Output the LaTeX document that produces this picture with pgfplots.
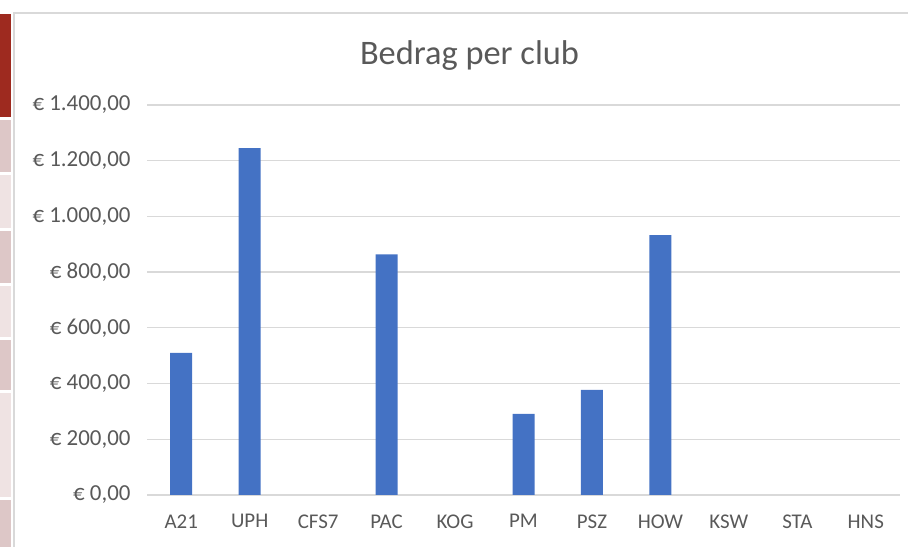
\documentclass[border=0pt]{standalone}
\usepackage{pgfplots}
\pgfplotsset{compat=1.18}
\usepackage{fontspec}
\setmainfont{Carlito}
\definecolor{barblue}{HTML}{4472C4}
\definecolor{gridgray}{HTML}{D9D9D9}
\definecolor{txtgray}{HTML}{595959}
\definecolor{cellred}{HTML}{9E2A1F}
\definecolor{pinkA}{HTML}{DDC7C7}
\definecolor{pinkB}{HTML}{EFE3E3}
\begin{document}
\begin{tikzpicture}[x=1bp,y=1bp]
\path[use as bounding box] (0,0) rectangle (908,547);
% spreadsheet cells at left edge (y measured from bottom: 547 - ypx)
\fill[cellred] (0,547-117) rectangle (11,547-14);
\fill[pinkA] (0,547-172) rectangle (11,547-120);
\fill[pinkB] (0,547-228) rectangle (11,547-175);
\fill[pinkA] (0,547-283) rectangle (11,547-231);
\fill[pinkB] (0,547-337) rectangle (11,547-286);
\fill[pinkA] (0,547-390) rectangle (11,547-340);
\fill[pinkB] (0,547-497) rectangle (11,547-393);
\fill[pinkA] (0,0) rectangle (11,547-500);
% chart frame
\draw[gridgray, line width=2bp] (14,0) -- (14,547-13) -- (908,547-13);
\begin{axis}[
  at={(147bp,52bp)}, anchor=south west,
  scale only axis, width=753bp, height=390bp,
  xmin=-0.5, xmax=10.5, ymin=0, ymax=1400,
  xtick={0,...,10},
  xticklabels={A21,UPH,CFS7,PAC,KOG,PM,PSZ,HOW,KSW,STA,HNS},
  ytick={0,200,...,1400},
  yticklabels={{€ 0,00},{€ 200,00},{€ 400,00},{€ 600,00},{€ 800,00},{€ 1.000,00},{€ 1.200,00},{€ 1.400,00}},
  ymajorgrids, grid style={gridgray, line width=1.3bp},
  axis line style={draw=none},
  axis x line*=bottom,
  x axis line style={draw=gridgray, line width=1.3bp},
  major tick length=0pt,
  tick style={draw=none},
  ticklabel style={text=txtgray},
  yticklabel style={xshift=-13bp, font=\fontsize{23}{26}\selectfont},
  xticklabel style={yshift=-16bp, font=\fontsize{21}{24}\selectfont},
  ybar, bar width=22bp,
  title={Bedrag per club},
  title style={text=txtgray, font=\fontsize{34.5}{38}\selectfont, at={(0.5,1)}, anchor=south, yshift=25bp, xshift=-54bp},
  clip=false,
  unbounded coords=discard,
]
\addplot[fill=barblue, draw=none, y filter/.expression={y==0 ? nan : y}] coordinates {
  (0,510) (1,1245) (2,0) (3,864) (4,0) (5,291) (6,377) (7,933) (8,0) (9,0) (10,0)
};
\end{axis}
\end{tikzpicture}
\end{document}
